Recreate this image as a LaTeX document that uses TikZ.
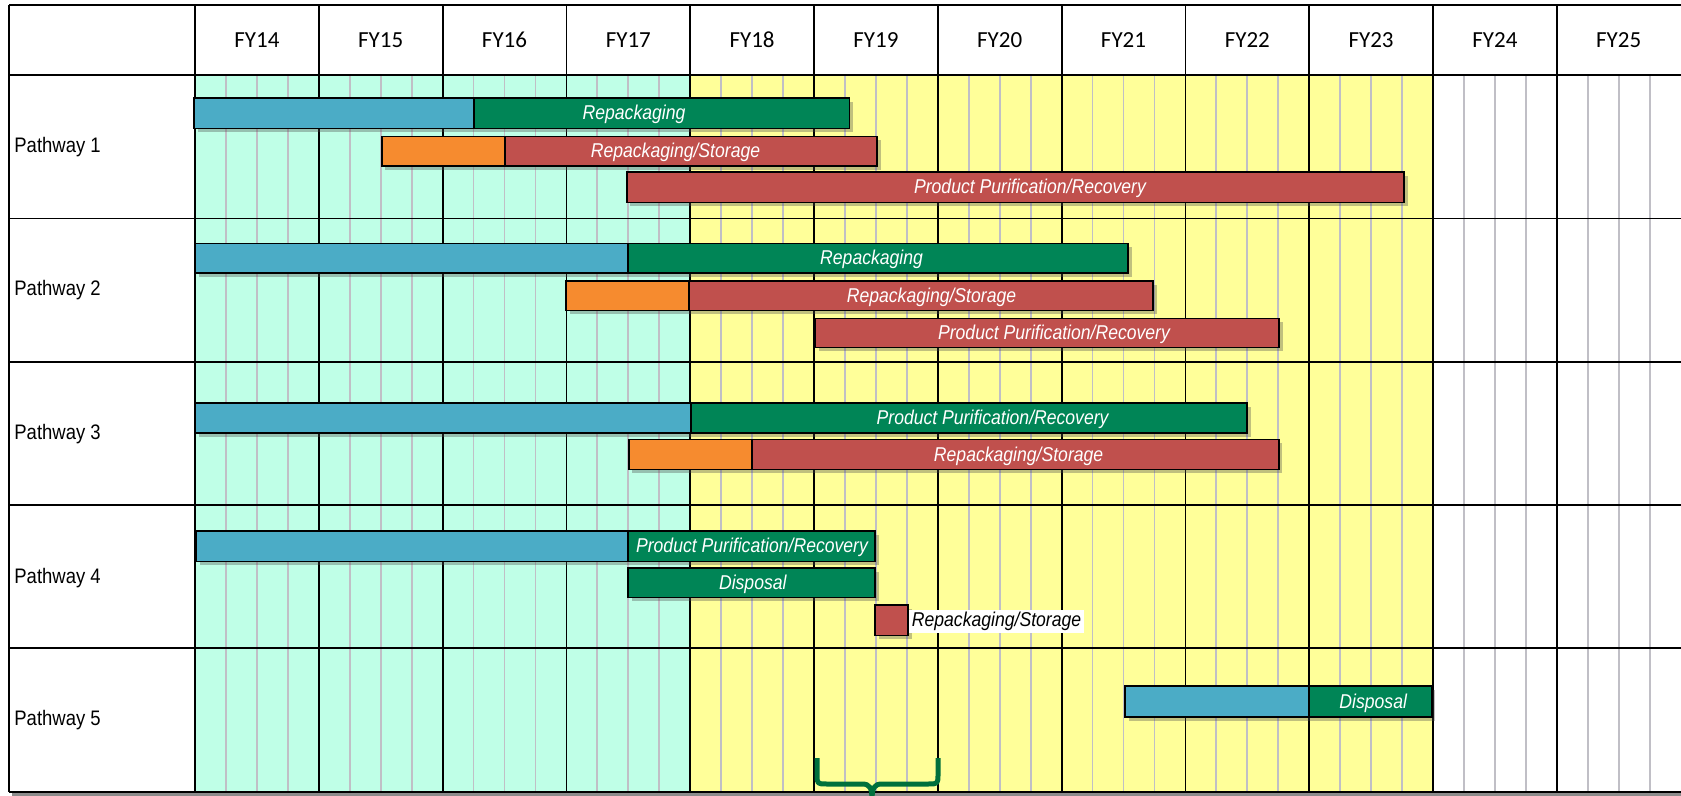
\documentclass[tikz,border=0pt]{standalone}
\usepackage{fontspec}
\setmainfont{Carlito}
\newfontfamily\narrowsf[FakeStretch=0.88]{Liberation Sans}
\usepackage{tikz}
\usetikzlibrary{shadows}
\definecolor{ganttB}{RGB}{75,172,198}
\definecolor{ganttG}{RGB}{0,133,86}
\definecolor{ganttO}{RGB}{246,139,47}
\definecolor{ganttR}{RGB}{192,80,77}
\definecolor{ganttC}{RGB}{191,255,231}
\definecolor{ganttY}{RGB}{255,255,153}
\definecolor{ganttQ}{RGB}{192,191,198}
\definecolor{ganttBr}{RGB}{0,112,60}
\tikzset{
  taskbar/.style={draw=black, line width=0.9pt,
    drop shadow={shadow xshift=1.8pt, shadow yshift=-1.8pt, opacity=0.35, fill=black!70}},
  tasktext/.style={font=\narrowsf\itshape\fontsize{10}{12}\selectfont, text=white,
    inner sep=0pt, anchor=base},
  yearlab/.style={font=\fontsize{11.5}{13}\selectfont, inner sep=0pt},
  pathlab/.style={font=\narrowsf\fontsize{10.5}{12}\selectfont, inner sep=0pt, anchor=west},
  gridmajor/.style={black, line width=0.9pt},
  gridminor/.style={ganttQ, line width=0.9pt}
}

\begin{document}
\begin{tikzpicture}[x=0.5pt, y=-0.5pt]
\useasboundingbox (0,0) rectangle (1681,796);
\clip (0,0) rectangle (1681,796);
\fill[white] (0,0) rectangle (1681,796);
% ====== shaded periods ======
\fill[ganttC] (195,75) rectangle (690.2,792);
\fill[ganttY] (690.2,75) rectangle (1433,792);
% ====== grid: quarters, years, rows ======
\foreach \i in {0,...,11}
  \foreach \q in {1,2,3}
    \draw[gridminor] ({195+123.8*(\i+\q/4)},75) -- ({195+123.8*(\i+\q/4)},792);
\foreach \i in {0,...,11}
  \draw[gridmajor] ({195+123.8*\i},5) -- ({195+123.8*\i},792);
\draw[gridmajor] (9,5) -- (9,792);
\foreach \yy in {5,75,218.5,362,505,648.3,792}
  \draw[gridmajor] (9,\yy) -- (1681,\yy);
\fill[black!45] (12,793.2) rectangle (1681,796);
% ====== header and row labels ======
\foreach \yr [count=\i from 0] in {14,...,25}
  \node[yearlab] (fy\yr) at ({195+123.8*(\i+0.5)},40) {FY\yr};
\node[pathlab] (path1) at (14,147.5) {Pathway 1};
\node[pathlab] (path2) at (14,290.2) {Pathway 2};
\node[pathlab] (path3) at (14,434) {Pathway 3};
\node[pathlab] (path4) at (14,578) {Pathway 4};
\node[pathlab] (path5) at (14,720) {Pathway 5};
% ====== Pathway 1 ======
\draw[taskbar, fill=ganttB] (194,98) rectangle (474,128.5);
\draw[taskbar, fill=ganttG] (474,98) rectangle (849.5,128.5);
\node[tasktext] (p1repack) at (634,119.8) {Repackaging};
\draw[taskbar, fill=ganttO] (381.7,136.5) rectangle (505,166);
\draw[taskbar, fill=ganttR] (505,136.5) rectangle (877,166);
\node[tasktext] (p1store) at (675.5,157.8) {Repackaging/Storage};
\draw[taskbar, fill=ganttR] (626.7,172) rectangle (1404,202.5);
\node[tasktext] (p1purif) at (1030,193.8) {Product Purification/Recovery};
% ====== Pathway 2 ======
\draw[taskbar, fill=ganttB] (195.5,243.5) rectangle (628,273);
\draw[taskbar, fill=ganttG] (628,243.5) rectangle (1128,273);
\node[tasktext] (p2repack) at (871.6,264.8) {Repackaging};
\draw[taskbar, fill=ganttO] (566,281) rectangle (689,310.5);
\draw[taskbar, fill=ganttR] (689,281) rectangle (1153,310.5);
\node[tasktext] (p2store) at (931.5,302.3) {Repackaging/Storage};
\draw[taskbar, fill=ganttR] (815,318.5) rectangle (1279,347.5);
\node[tasktext] (p2purif) at (1054,339.5) {Product Purification/Recovery};
% ====== Pathway 3 ======
\draw[taskbar, fill=ganttB] (195.5,403) rectangle (691,433);
\draw[taskbar, fill=ganttG] (691,403) rectangle (1247,433);
\node[tasktext] (p3purif) at (992.6,424.5) {Product Purification/Recovery};
\draw[taskbar, fill=ganttO] (628.8,439.5) rectangle (752,469.5);
\draw[taskbar, fill=ganttR] (752,439.5) rectangle (1278.6,469.5);
\node[tasktext] (p3store) at (1018.6,461) {Repackaging/Storage};
% ====== Pathway 4 ======
\draw[taskbar, fill=ganttB] (196,531) rectangle (628.3,561.5);
\draw[taskbar, fill=ganttG] (628.3,531) rectangle (875.3,561.5);
\node[tasktext] (p4purif) at (752,552.8) {Product Purification/Recovery};
\draw[taskbar, fill=ganttG] (628.3,568) rectangle (875.3,597.5);
\node[tasktext] (p4disp) at (752.8,589.3) {Disposal};
\draw[taskbar, fill=ganttR] (875.3,605) rectangle (908.3,635.5);
\node[tasktext, text=black, fill=white, inner sep=1.25pt, anchor=base west] (p4store) at (909,626.8) {Repackaging/Storage};
% ====== Pathway 5 ======
\draw[taskbar, fill=ganttB] (1125.2,686) rectangle (1308.6,717);
\draw[taskbar, fill=ganttG] (1308.6,686) rectangle (1431.6,717);
\node[tasktext] (p5disp) at (1373.2,708) {Disposal};
% ====== bracket under FY19 ======
\draw[ganttBr, line width=2.5pt, line join=round]
  (817,758) -- (817,774) .. controls (817,784) .. (827,784) -- (862,784)
  .. controls (870,784) and (872,788) .. (872,800)
  .. controls (872,788) and (874,784) .. (882,784) -- (928,784)
  .. controls (938,784) .. (938,774) -- (938,758);
\end{tikzpicture}
\end{document}
